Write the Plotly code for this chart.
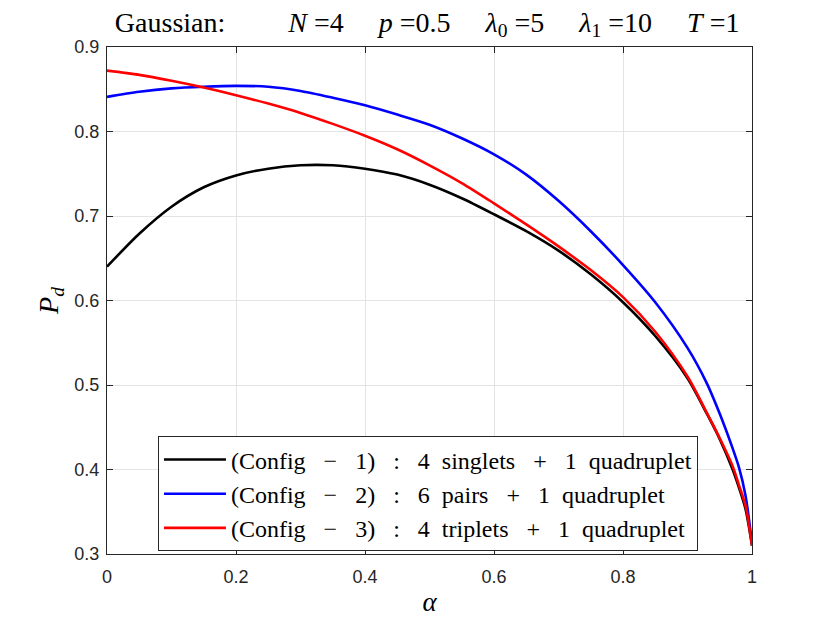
import plotly.graph_objects as go

# alpha grid and detection probabilities
alpha = [0, 0.05, 0.1, 0.15, 0.2, 0.25, 0.3, 0.35, 0.4, 0.45, 0.5, 0.55, 0.6,
         0.65, 0.7, 0.75, 0.8, 0.85, 0.9, 0.93, 0.95, 0.97, 0.98, 0.99, 1.0]

pd_config1 = [0.640, 0.679, 0.711, 0.734, 0.748, 0.756, 0.760, 0.760, 0.756, 0.749,
              0.737, 0.721, 0.702, 0.682, 0.659, 0.631, 0.598, 0.558, 0.508, 0.466,
              0.436, 0.400, 0.378, 0.353, 0.310]
pd_config2 = [0.841, 0.847, 0.851, 0.853, 0.854, 0.853, 0.848, 0.840, 0.831, 0.820,
              0.808, 0.792, 0.773, 0.749, 0.718, 0.682, 0.642, 0.598, 0.544, 0.502,
              0.466, 0.425, 0.402, 0.369, 0.312]
pd_config3 = [0.872, 0.867, 0.860, 0.852, 0.843, 0.833, 0.822, 0.809, 0.795, 0.779,
              0.760, 0.739, 0.715, 0.690, 0.664, 0.636, 0.604, 0.563, 0.510, 0.467,
              0.437, 0.404, 0.381, 0.357, 0.310]

sp = "\u00a0"


def legend_label(n, a, what):
    op = sp * 3
    return ("(Config" + op + "−" + op + n + ")" + op + ":" + op + a + sp * 2 + what +
            op + "+" + op + "1" + sp * 2 + "quadruplet")


names = [legend_label("1", "4", "singlets"),
         legend_label("2", "6", "pairs"),
         legend_label("3", "4", "triplets")]
colors = ["black", "blue", "red"]

fig = go.Figure()
for ys, name, c in zip([pd_config1, pd_config2, pd_config3], names, colors):
    fig.add_trace(go.Scatter(x=alpha, y=ys, mode="lines", name=name,
                             line=dict(color=c, width=2.6, shape="spline", smoothing=0.8)))

title = ("Gaussian:" + sp * 9 + "<i>N</i>" + sp + "=4" + sp * 5 + "<i>p</i>" + sp + "=0.5" + sp * 5 +
         "<i>λ</i><sub>0</sub>" + sp + "=5" + sp * 5 + "<i>λ</i><sub>1</sub>" + sp + "=10" + sp * 5 +
         "<i>T</i>" + sp + "=1")

axis_common = dict(showline=True, linecolor="#262626", linewidth=1, mirror="ticks",
                   ticks="inside", ticklen=6, tickcolor="#262626",
                   showgrid=True, gridcolor="#e3e3e3", gridwidth=1, zeroline=False,
                   tickfont=dict(family="Liberation Sans, Arial", size=18, color="#262626"))

# the page adds an 8px body margin, so the margins are shifted to keep the axes in place
fig.update_layout(
    width=830, height=623,
    margin=dict(l=99, r=86, t=39, b=77),
    paper_bgcolor="white", plot_bgcolor="white",
    title=dict(text=title, x=0.505, xanchor="center", y=0.978, yanchor="middle",
               font=dict(family="Liberation Serif, DejaVu Serif", size=28, color="black")),
    xaxis=dict(range=[0, 1], tickvals=[0, 0.2, 0.4, 0.6, 0.8, 1],
               ticktext=["0", "0.2", "0.4", "0.6", "0.8", "1"], ticklabelstandoff=6,
               title=dict(text="<i>α</i>", standoff=6,
                          font=dict(family="Liberation Serif, DejaVu Serif", size=27, color="black")),
               **axis_common),
    yaxis=dict(range=[0.3, 0.9], dtick=0.1, tickformat=".1f", ticklabelstandoff=3,
               title=dict(text="<i>P</i><sub><i>d</i></sub>", standoff=7,
                          font=dict(family="Liberation Serif, DejaVu Serif", size=28, color="black")),
               **axis_common),
    legend=dict(x=0.079, y=0.232, xanchor="left", yanchor="top",
                bgcolor="white", bordercolor="#262626", borderwidth=1,
                itemwidth=62, tracegroupgap=0,
                font=dict(family="Liberation Serif, DejaVu Serif", size=24, color="black")),
)

fig.write_html("out.html")
